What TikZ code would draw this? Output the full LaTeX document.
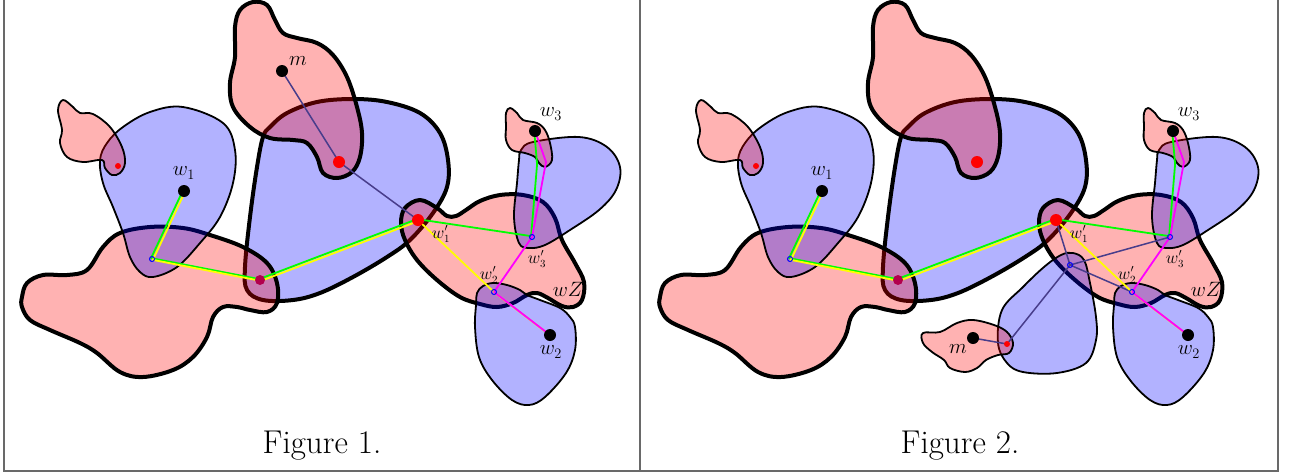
\documentclass[tikz,border=0pt]{standalone}
\usetikzlibrary{calc}

\definecolor{slateline}{RGB}{72,61,139}
\definecolor{darkdot}{RGB}{178,0,77}
\definecolor{framegray}{RGB}{105,105,105}
\definecolor{pathgreen}{RGB}{0,255,0}
\definecolor{pathyellow}{RGB}{255,255,0}
\definecolor{pathmagenta}{RGB}{255,0,255}

\tikzset{
  pinkblob/.style={draw=black, fill=red, fill opacity=0.3, line join=round},
  blueblob/.style={draw=black, fill=blue, fill opacity=0.3, line join=round},
  heavy/.style={line width=4},
  light/.style={line width=1.8},
  route/.style={line width=1.8, line join=round},
  bigdot/.style={circle, fill=black, inner sep=0, minimum size=12},
  reddot/.style={circle, fill=red, inner sep=0, minimum size=12},
  smalldot/.style={circle, fill=red, inner sep=0, minimum size=6},
  vertex/.style={circle, draw=blue, line width=1, inner sep=0, minimum size=5},
  lab/.style={font=\fontsize{20}{24}\selectfont, inner sep=1},
  smalllab/.style={font=\fontsize{16}{18}\selectfont, inner sep=1},
  caption/.style={font=\fontsize{33}{38}\selectfont}
}

% blobs common to both figures
\newcommand\sharedblobs{%
  \draw[blueblob,heavy] plot[smooth cycle, tension=0.6] coordinates {(263,137) (257,167) (250,217) (245,267) (247,290) (263,300) (293,300) (320,293) (353,277) (387,257) (410,240) (433,213) (447,187) (448,160) (440,133) (420,113) (387,102) (353,99) (317,102) (287,113) (270,127)};
  \draw[pinkblob,heavy] plot[smooth cycle, tension=0.6] coordinates {(253,2) (240,10) (235,27) (235,57) (230,83) (233,107) (250,127) (270,138) (293,140) (307,143) (317,157) (323,173) (337,178) (352,172) (360,157) (362,133) (357,107) (347,77) (333,55) (317,43) (297,38) (283,33) (275,20) (267,5)};
  \draw[pinkblob,heavy] plot[smooth cycle, tension=0.6] coordinates {(22,297) (27,283) (43,275) (67,275) (87,270) (103,247) (120,233) (150,227) (183,228) (210,235) (243,247) (267,263) (277,283) (277,303) (267,312) (250,310) (237,307) (223,307) (213,317) (207,337) (193,357) (173,370) (143,377) (120,372) (97,353) (80,343) (50,330) (30,320) (22,307)};
  \draw[blueblob,light] plot[smooth cycle, tension=0.6] coordinates {(183,107) (223,123) (235,150) (233,183) (220,217) (200,243) (177,267) (153,277) (140,272) (130,257) (123,233) (113,207) (103,183) (100,160) (107,143) (123,127) (150,112)};
  \draw[pinkblob,light] plot[smooth cycle, tension=0.6] coordinates {(63,100) (73,107) (80,113) (93,114) (110,127) (122,147) (125,163) (120,173) (112,175) (105,168) (102,160) (83,162) (67,157) (60,143) (62,130) (58,110)};
  \draw[pinkblob,heavy] plot[smooth cycle, tension=0.6] coordinates {(405,208) (420,200) (437,208) (447,216) (456,216) (466,210) (480,201) (500,195) (523,195) (543,202) (555,218) (562,240) (575,263) (584,282) (582,300) (573,307) (562,306) (548,298) (537,293) (527,295) (513,303) (497,307) (480,304) (460,297) (437,280) (417,260) (405,240) (401,223)};
  \draw[blueblob,light] plot[smooth cycle, tension=0.6] coordinates {(521,150) (533,142) (579,137) (607,147) (620,167) (616,190) (599,210) (570,230) (545,245) (529,248) (519,243) (514,217) (517,183) (519,160)};
  \draw[blueblob,light] plot[smooth cycle, tension=0.6] coordinates {(477,293) (483,286) (493,283) (507,285) (520,290) (527,295) (540,300) (560,308) (570,317) (575,327) (575,350) (566,373) (545,397) (529,405) (512,400) (492,380) (479,357) (475,327) (476,305)};
  \draw[pinkblob,light] plot[smooth cycle, tension=0.6] coordinates {(510,108) (517,113) (523,120) (537,123) (545,130) (550,143) (552,160) (545,167) (539,163) (535,157) (525,153) (512,150) (506,140) (506,127) (506,113)};
}

% points, routes and labels common to both figures
\newcommand\sharedroutes{%
  \coordinate (w1) at (184,191);
  \coordinate (a) at (152,259);
  \coordinate (b) at (260,280);
  \coordinate (w1p) at (418,220);
  \coordinate (w3p) at (532,237);
  \coordinate (w2p) at (494,292);
  \coordinate (w2) at (550,335);
  \coordinate (w3) at (535,131);
  \coordinate (gk) at (538,165);
  \coordinate (mk) at (546,162);
  \coordinate (r) at (339,162);
  \draw[route, pathgreen, transform canvas={xshift=-0.9pt, yshift=0.9pt}] (w1) -- (a) -- (b) -- (w1p) -- (w3p) -- (gk) -- (w3);
  \draw[route, pathyellow, transform canvas={xshift=0.9pt, yshift=-0.9pt}] (w1) -- (a) -- (b) -- (w1p) -- (w2p) -- (w2);
  \draw[route, pathmagenta] (w3) -- (mk) -- (w3p) -- (w2p) -- (w2);
  \node[smalldot] (rs) at (118,166) {};
  \node[reddot] (rd) at (r) {};
  \node[reddot] (rw) at (w1p) {};
  \node[circle, fill=darkdot, inner sep=0, minimum size=10] (rb) at (b) {};
  \node[vertex] (va) at (a) {};
  \node[vertex] (vw3) at (w3p) {};
  \node[vertex] (vw2) at (w2p) {};
  \node[bigdot] (dw1) at (w1) {};
  \node[bigdot] (dw2) at (w2) {};
  \node[bigdot] (dw3) at (w3) {};
  \node[lab] (lw1) at (184,173) {$w_1$};
  \node[lab] (lw3) at (551,114) {$w_3$};
  \node[lab] (lw2) at (551,352) {$w_2$};
  \node[lab] (lwz) at (568,289) {$wZ$};
  \node[smalllab] (lw1p) at (441,234) {$w'_1$};
  \node[smalllab] (lw3p) at (537,259) {$w'_3$};
  \node[smalllab] (lw2p) at (489,275) {$w'_2$};
}

\begin{document}
\begin{tikzpicture}[x=1pt, y=-1pt]
  \useasboundingbox (0,0) rectangle (1298,475);
  % frame
  \draw[framegray, line width=1.6] (4,0) -- (4,471) -- (1278,471) -- (1278,0);
  \draw[framegray, line width=1.6] (640,0) -- (640,471);

  % Figure 1
  \begin{scope}[name prefix=f1-]
    \sharedblobs
    \coordinate (m) at (282,71);
    \draw[slateline, line width=1.5] (m) -- (339,162) -- (418,220);
    \sharedroutes
    \node[bigdot] (dm) at (m) {};
    \node[lab] (lm) at (298,61) {$m$};
  \end{scope}
  \node[caption] (cap1) at (322,446) {Figure 1.};

  % Figure 2
  \begin{scope}[xshift=638, name prefix=f2-]
    \sharedblobs
    \draw[blueblob,light] plot[smooth cycle, tension=0.6] coordinates {(435,253) (446,260) (452,283) (458,317) (458,340) (448,363) (419,373) (385,372) (369,363) (360,343) (364,310) (385,287) (406,267) (423,255)};
    \draw[pinkblob,light] plot[smooth cycle, tension=0.6] coordinates {(285,333) (302,332) (319,323) (335,320) (356,325) (369,332) (375,343) (371,353) (360,355) (348,360) (339,368) (327,372) (312,368) (306,360) (294,352) (285,343)};
    \coordinate (m) at (335,338);
    \coordinate (rm) at (369,344);
    \coordinate (c) at (432,265);
    \draw[slateline, line width=1.5] (m) -- (rm) -- (c) -- (418,220);
    \draw[slateline, line width=1.5] (532,237) -- (c) -- (494,292);
    \sharedroutes
    \node[smalldot] (drm) at (rm) {};
    \node[vertex] (vc) at (c) {};
    \node[bigdot] (dm) at (m) {};
    \node[lab] (lm) at (320,349) {$m$};
  \end{scope}
  \node[caption] (cap2) at (960,446) {Figure 2.};
\end{tikzpicture}
\end{document}
